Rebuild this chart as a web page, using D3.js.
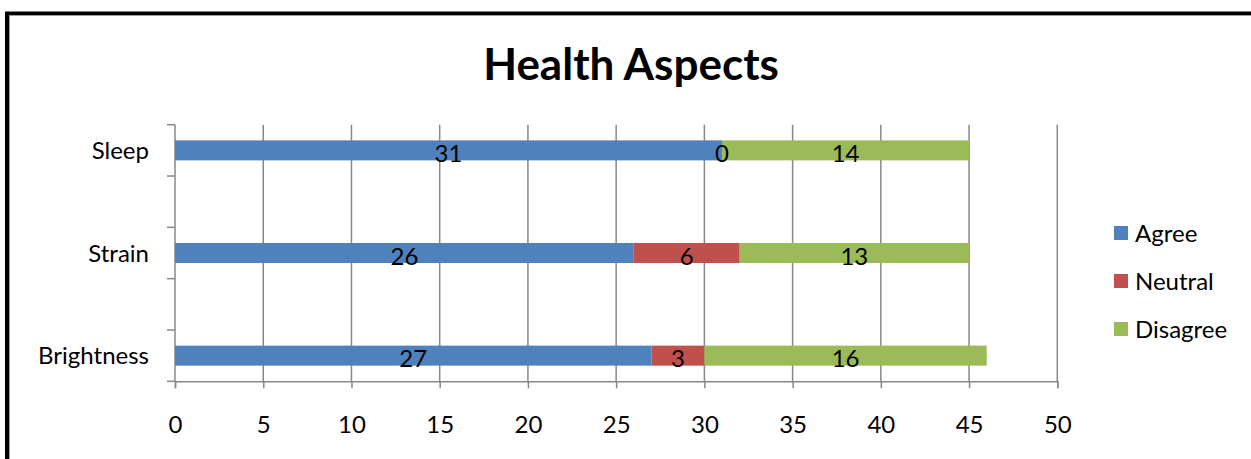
<!DOCTYPE html>
<html>
<head>
<meta charset="utf-8">
<script src="https://cdn.jsdelivr.net/npm/d3@7"></script>
<style>
  html, body { margin: 0; padding: 0; background: #fff; }
  svg { display: block; }
  text { font-family: Lato, "Open Sans", sans-serif; fill: #000; }
</style>
</head>
<body>
<svg id="chart" width="1251" height="459"></svg>
<script>
// Survey responses per health aspect
const categories = ["Brightness", "Strain", "Sleep"];
const agree    = [27, 26, 31];
const neutral  = [3, 6, 0];
const disagree = [16, 13, 14];
const seriesNames = ["Agree", "Neutral", "Disagree"];
const seriesColors = ["#4F81BD", "#C0504D", "#9BBB59"];
const xTicks = [0, 5, 10, 15, 20, 25, 30, 35, 40, 45, 50];
// Category slots from top to bottom (empty slots sit between the bars)
const slots = ["Sleep", "_gap1", "Strain", "_gap2", "Brightness"];

const svg = d3.select("#chart");
const W = 1251, H = 459;
const plot = { left: 175, right: 1057.3, top: 124.7, bottom: 381.3 };
const axisColor = "#888888";
const labelSize = 24;

// Frame around the chart area
svg.append("rect").attr("x", 0).attr("y", 0).attr("width", W).attr("height", H).attr("fill", "#fff");
svg.append("path")
  .attr("d", `M7,${H + 10} V13.5 H${W + 10}`)
  .attr("fill", "none").attr("stroke", "#000").attr("stroke-width", 4);
svg.append("path")
  .attr("d", `M9.5,${H + 10} V15.5 H${W + 10}`)
  .attr("fill", "none").attr("stroke", "#a0a0a0").attr("stroke-width", 1);

const x = d3.scaleLinear().domain([0, 50]).range([plot.left, plot.right]);
const y = d3.scaleBand().domain(slots).range([plot.top, plot.bottom]).padding(0);
const barH = y.bandwidth() * 0.39;

// Title
svg.append("text")
  .attr("x", 631).attr("y", 63)
  .attr("text-anchor", "middle").attr("dominant-baseline", "central")
  .style("font-weight", "bold").style("font-size", "44px")
  .text("Health Aspects");

// Vertical gridlines
svg.append("g").selectAll("line")
  .data(xTicks.filter(t => t > 0))
  .join("line")
  .attr("x1", d => x(d)).attr("x2", d => x(d))
  .attr("y1", plot.top).attr("y2", plot.bottom)
  .attr("stroke", axisColor).attr("stroke-width", 1.5);

// X axis
const xAxis = svg.append("g")
  .attr("transform", `translate(0,${plot.bottom})`)
  .call(d3.axisBottom(x).tickValues(xTicks).tickSize(7).tickFormat(d3.format("d")));
xAxis.select(".domain").attr("stroke", axisColor).attr("stroke-width", 1.5);
xAxis.selectAll(".tick line").attr("stroke", axisColor).attr("stroke-width", 1.5);
xAxis.selectAll(".tick text")
  .style("font-family", "Lato, sans-serif").style("font-size", labelSize + "px")
  .attr("fill", "#000").attr("dy", null).attr("y", 42.5)
  .attr("dominant-baseline", "central");

// Y axis line with boundary ticks between slots
const bounds = slots.map(s => y(s)).concat([y(slots[slots.length - 1]) + y.bandwidth()]);
svg.append("line")
  .attr("x1", plot.left).attr("x2", plot.left)
  .attr("y1", plot.top).attr("y2", plot.bottom)
  .attr("stroke", axisColor).attr("stroke-width", 1.5);
svg.append("g").selectAll("line")
  .data(bounds)
  .join("line")
  .attr("x1", plot.left - 8).attr("x2", plot.left)
  .attr("y1", d => d).attr("y2", d => d)
  .attr("stroke", axisColor).attr("stroke-width", 1.5);

// Category labels
svg.append("g").selectAll("text")
  .data(categories)
  .join("text")
  .attr("x", 149)
  .attr("y", d => y(d) + y.bandwidth() / 2 - 1)
  .attr("text-anchor", "end").attr("dominant-baseline", "central")
  .style("font-size", labelSize + "px")
  .text(d => d);

// Stacked bars
const rows = categories.map((c, i) => ({ category: c, Agree: agree[i], Neutral: neutral[i], Disagree: disagree[i] }));
const stacked = d3.stack().keys(seriesNames)(rows);

const layers = svg.append("g").selectAll("g")
  .data(stacked)
  .join("g")
  .attr("fill", (d, i) => seriesColors[i]);
layers.selectAll("rect")
  .data(d => d)
  .join("rect")
  .attr("x", d => x(d[0]))
  .attr("width", d => x(d[1]) - x(d[0]))
  .attr("y", d => y(d.data.category) + (y.bandwidth() - barH) / 2)
  .attr("height", barH);

// Value labels centred on each segment
const labels = svg.append("g");
stacked.forEach(layer => {
  layer.forEach(d => {
    labels.append("text")
      .attr("x", (x(d[0]) + x(d[1])) / 2)
      .attr("y", y(d.data.category) + y.bandwidth() / 2 + 2)
      .attr("text-anchor", "middle").attr("dominant-baseline", "central")
      .style("font-size", labelSize + "px")
      .text(d.data[layer.key]);
  });
});

// Legend
const legend = svg.append("g").attr("transform", "translate(1114,233)");
const item = legend.selectAll("g")
  .data(seriesNames)
  .join("g")
  .attr("transform", (d, i) => `translate(0,${i * 48})`);
item.append("rect")
  .attr("x", 0).attr("y", -7).attr("width", 14).attr("height", 14)
  .attr("fill", (d, i) => seriesColors[i]);
item.append("text")
  .attr("x", 21).attr("y", -1)
  .attr("dominant-baseline", "central")
  .style("font-size", labelSize + "px")
  .text(d => d);
</script>
</body>
</html>
